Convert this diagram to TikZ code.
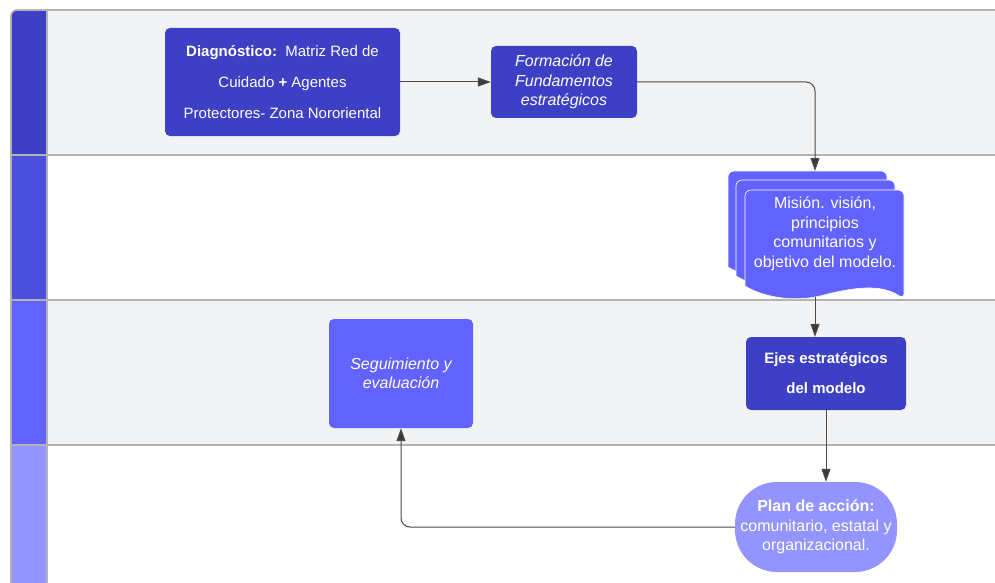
\documentclass[tikz,border=0pt]{standalone}
\usepackage{fontspec}
\setmainfont{Liberation Sans}
\usetikzlibrary{arrows.meta}
\definecolor{cdark}{HTML}{3D40C4}
\definecolor{cmid}{HTML}{4B4FDB}
\definecolor{cvio}{HTML}{6262FF}
\definecolor{clite}{HTML}{9494FF}
\definecolor{lanebg}{HTML}{F2F3F5}
\definecolor{lanebord}{HTML}{B3B3B3}
\definecolor{conn}{HTML}{4A4A4A}
\tikzset{
  box/.style={rounded corners=5pt, text=white, align=center, inner sep=0pt},
  fsmall/.style={font=\fontsize{15}{31}\selectfont},
  fbig/.style={font=\fontsize{16}{19.5}\selectfont},
  link/.style={draw=conn, line width=1pt, rounded corners=9pt,
    -{Triangle[length=13pt,width=9pt,fill=conn!80!black]}},
  sheet/.style={fill=cvio, draw=white, line width=0.6pt},
  lanesep/.style={draw=lanebord, line width=1.6pt}
}
\newcommand\docsheetpath{(745,286) [rounded corners=6pt] -- (745,190) -- (904,190) -- (904,299) [sharp corners]
  .. controls (880,283) and (850,288) .. (820,296)
  .. controls (795,302) and (765,298) .. (745,286) -- cycle}
\begin{document}
\begin{tikzpicture}[x=1pt,y=-1pt]
\useasboundingbox (0,0) rectangle (995,583);
% lanes
\begin{scope}
  \clip[rounded corners=6pt] (11,10) rectangle (1010,600);
  \fill[lanebg] (11,10) rectangle (995,155);
  \fill[white] (11,155) rectangle (995,300);
  \fill[lanebg] (11,300) rectangle (995,445);
  \fill[white] (11,445) rectangle (995,583);
  \fill[cdark] (11,10) rectangle (47,155);
  \fill[cmid] (11,155) rectangle (47,300);
  \fill[cvio] (11,300) rectangle (47,445);
  \fill[clite] (11,445) rectangle (47,583);
\end{scope}
\draw[lanesep, rounded corners=6pt] (11,590) -- (11,10) -- (1000,10);
\draw[lanesep] (47,10) -- (47,590);
\draw[lanesep] (11,155) -- (1000,155);
\draw[lanesep] (11,300) -- (1000,300);
\draw[lanesep] (11,445) -- (1000,445);

% nodes
\node[box, fill=cdark, fsmall, minimum width=235, minimum height=108] (diag) at (282.5,82)
  {\textbf{Diagnóstico:}\ \ Matriz Red de\\Cuidado \textbf{+} Agentes\\Protectores- Zona Nororiental};
\node[box, fill=cdark, fbig, minimum width=146, minimum height=72] (form) at (564,82)
  {\itshape Formación de\\\itshape Fundamentos\\\itshape estratégicos};

% document stack
\begin{scope}[shift={(-17,-19)}] \path[sheet] \docsheetpath; \end{scope}
\begin{scope}[shift={(-9,-10)}] \path[sheet] \docsheetpath; \end{scope}
\path[sheet] \docsheetpath;
\node[text=white, align=center, fbig, inner sep=0pt] (doc) at (825,234)
  {Misión. visión,\\principios\\comunitarios y\\objetivo del modelo.};
\coordinate (docin) at (815,171);
\coordinate (docout) at (815,297);

\node[box, fill=cdark, fsmall, font=\bfseries\fontsize{15}{30}\selectfont,
  minimum width=160, minimum height=73] (ejes) at (826,373.5)
  {Ejes estratégicos\\del modelo};
\node[box, fill=cvio, fbig, minimum width=144, minimum height=109] (seg) at (401,373.5)
  {\itshape Seguimiento y\\\itshape evaluación};
\node[box, rounded corners=42pt, fill=clite, fbig, minimum width=162, minimum height=90] (plan) at (816,527)
  {\textbf{Plan de acción:}\\comunitario, estatal y\\organizacional.};

% connectors
\draw[link] (diag.east) -- (form.west);
\draw[link] (form.east) -| (docin);
\draw[link] (docout) -- (docout |- ejes.north);
\draw[link] (ejes.south) -- (ejes.south |- plan.north);
\draw[link] (plan.west) -| (seg.south);
\end{tikzpicture}
\end{document}
